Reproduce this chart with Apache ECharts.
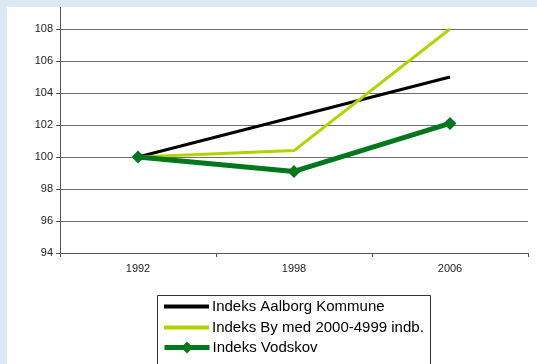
<!DOCTYPE html>
<html>
<head>
<meta charset="utf-8">
<script src="https://cdn.jsdelivr.net/npm/echarts@6/dist/echarts.min.js"></script>
<style>
html,body{margin:0;padding:0;background:#dce9f4;width:537px;height:364px;overflow:hidden;}
#c{position:absolute;left:7px;top:-13px;width:530px;height:377px;background:#fff;}
#band{position:absolute;left:0;top:0;width:537px;height:7px;background:#dce9f4;z-index:10;}
</style>
</head>
<body>
<div id="c"></div>
<div id="band"></div>
<script>
const categories = ['1992', '1998', '2006'];
const seriesNames = ['Indeks Aalborg Kommune', 'Indeks By med 2000-4999 indb.', 'Indeks Vodskov'];
const aalborg = [100, 102.5, 105.0];
const byMed = [100, 100.4, 108.0];
const vodskov = [100, 99.1, 102.1];

const chart = echarts.init(document.getElementById('c'), null, {renderer: 'canvas'});
const font = 'Liberation Sans, Arial, sans-serif';
const legendTops = [312, 333, 353];
const legendHeights = [13, 13, 15];
const legendItems = [
  {name: seriesNames[0], itemStyle: {opacity: 0}, lineStyle: {width: 4}},
  {name: seriesNames[1], itemStyle: {opacity: 0}, lineStyle: {width: 4}},
  {name: seriesNames[2], lineStyle: {width: 5}}
];
const legends = legendItems.map((it, i) => ({
  orient: 'horizontal',
  left: 155, top: legendTops[i], z: 5,
  padding: 0,
  itemWidth: 45, itemHeight: legendHeights[i],
  textStyle: {fontSize: 15, fontFamily: font, color: '#000', padding: [0, 0, 0, -2]},
  data: [it]
}));
chart.setOption({
  animation: false,
  backgroundColor: '#fff',
  grid: {left: 53, right: 9, top: 10, bottom: 111, containLabel: false},
  xAxis: {
    type: 'category',
    data: categories,
    boundaryGap: true,
    axisLine: {lineStyle: {color: '#555', width: 1}},
    axisTick: {show: true, length: 4, lineStyle: {color: '#555'}},
    axisLabel: {color: '#222', fontSize: 11, fontFamily: font, margin: 10}
  },
  yAxis: {
    type: 'value',
    min: 94, max: 110, interval: 2,
    axisLine: {show: true, lineStyle: {color: '#555', width: 1}},
    axisTick: {show: true, length: 4, lineStyle: {color: '#555'}},
    axisLabel: {color: '#222', fontSize: 11, fontFamily: font, margin: 7,
      formatter: v => v === 110 ? '' : String(v)},
    splitLine: {lineStyle: {color: '#6e6e6e', width: 1}}
  },
  graphic: [{
    type: 'rect', left: 150, top: 308, z: 0,
    shape: {width: 273, height: 80},
    style: {fill: '#fff', stroke: '#333', lineWidth: 1}
  }],
  legend: legends,
  series: [
    {name: seriesNames[0], type: 'line', data: aalborg, symbol: 'none',
      lineStyle: {color: '#000', width: 3}, itemStyle: {color: '#000'}},
    {name: seriesNames[1], type: 'line', data: byMed, symbol: 'none',
      lineStyle: {color: '#b3d300', width: 3}, itemStyle: {color: '#b3d300'}},
    {name: seriesNames[2], type: 'line', data: vodskov, symbol: 'diamond', symbolSize: 13,
      lineStyle: {color: '#00771c', width: 5}, itemStyle: {color: '#00771c'}}
  ]
});
</script>
</body>
</html>
